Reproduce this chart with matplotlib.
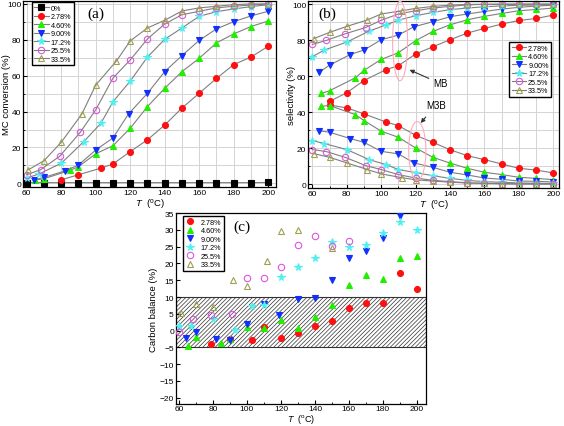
import matplotlib
matplotlib.use('Agg')
import matplotlib.pyplot as plt
from matplotlib.patches import Ellipse
from matplotlib.ticker import MultipleLocator

plt.rcParams['font.family'] = ['Liberation Sans', 'DejaVu Sans']
plt.rcParams['mathtext.fontset'] = 'custom'
plt.rcParams['mathtext.it'] = 'Liberation Sans:italic'
plt.rcParams['mathtext.rm'] = 'Liberation Sans'
plt.rcParams['hatch.linewidth'] = 0.5

labels = ['0%', '2.78%', '4.60%', '9.00%', '17.2%', '25.5%', '33.5%']

# (a) MC conversion
T_conv_0 = [60, 70, 80, 90, 100, 110, 120, 130, 140, 150, 160, 170, 180, 190, 200]
conv_0 = [0.4, 0.4, 0.4, 0.4, 0.4, 0.4, 0.4, 0.4, 0.4, 0.4, 0.4, 0.4, 0.4, 0.4, 0.5]
T_conv_278 = [80, 90, 103, 110, 120, 130, 140, 150, 160, 170, 180, 190, 200]
conv_278 = [2.0, 4.8, 8.5, 10.8, 17.7, 24.3, 32.5, 42.0, 50.2, 58.5, 66.2, 70.4, 76.4]
T_conv_460 = [65, 70, 85, 90, 100, 110, 120, 130, 140, 150, 160, 170, 180, 190, 200]
conv_460 = [1.9, 2.6, 7.2, 9.3, 16.5, 21.0, 30.7, 42.8, 53.0, 62.3, 69.7, 78.3, 83.3, 87.4, 90.5]
T_conv_900 = [64, 70, 82, 90, 100, 110, 119, 130, 140, 150, 160, 170, 180, 190, 200]
conv_900 = [1.9, 3.3, 6.9, 10.2, 18.6, 25.3, 38.7, 50.2, 62.3, 71.2, 79.7, 86.1, 90.1, 93.3, 95.9]
T_conv_172 = [60, 67, 80, 93, 103, 110, 120, 130, 140, 150, 160, 170, 180, 190, 200]
conv_172 = [3.0, 5.2, 11.2, 23.2, 33.5, 45.5, 57.0, 70.4, 80.3, 86.6, 93.1, 95.7, 97.2, 98.5, 99.6]
T_conv_255 = [60, 68, 79, 91, 100, 110, 120, 130, 140, 150, 160, 170, 180, 190, 200]
conv_255 = [4.8, 7.6, 15.0, 28.4, 41.0, 58.7, 68.8, 80.5, 88.8, 94.0, 95.9, 97.8, 98.7, 99.4, 100.0]
T_conv_335 = [61, 70, 80, 92, 100, 112, 120, 130, 140, 150, 160, 170, 180, 190, 200]
conv_335 = [7.6, 12.6, 22.9, 38.7, 54.8, 68.2, 79.4, 86.6, 90.9, 96.1, 97.8, 98.7, 99.6, 100.0, 100.0]

# (b) selectivity, MB (upper) and M3B (lower)
T_sel_278 = [70, 80, 90, 103, 110, 120, 130, 140, 150, 160, 170, 180, 190, 200]
mb_278 = [46.0, 50.8, 57.6, 63.7, 65.8, 72.3, 76.3, 80.2, 83.9, 86.5, 88.9, 90.9, 92.0, 93.9]
m3b_278 = [44.0, 42.4, 39.1, 34.5, 32.6, 27.2, 23.3, 19.2, 15.9, 13.7, 11.3, 8.9, 7.9, 6.3]
T_sel_460 = [65, 70, 85, 90, 100, 110, 120, 130, 140, 150, 160, 170, 180, 190, 200]
mb_460 = [50.4, 51.9, 59.1, 63.2, 69.3, 73.0, 79.7, 84.8, 88.5, 91.3, 93.2, 94.8, 96.3, 97.0, 97.8]
m3b_460 = [43.3, 43.7, 38.7, 35.4, 29.5, 26.1, 20.2, 15.0, 11.8, 8.9, 6.7, 5.4, 3.9, 3.3, 2.6]
T_sel_900 = [64, 70, 82, 90, 100, 110, 119, 130, 140, 150, 160, 170, 180, 190, 200]
mb_900 = [62.2, 66.1, 72.0, 74.5, 80.2, 82.8, 87.4, 90.2, 93.0, 94.5, 95.9, 97.2, 98.2, 98.9, 99.4]
m3b_900 = [29.7, 28.9, 25.4, 23.3, 18.3, 16.9, 11.9, 9.4, 6.7, 5.2, 3.5, 2.8, 1.8, 1.7, 1.3]
T_sel_172 = [60, 67, 80, 93, 103, 110, 120, 130, 140, 150, 160, 170, 180, 190, 200]
mb_172 = [70.8, 74.5, 78.9, 85.0, 88.5, 91.1, 93.5, 95.4, 96.9, 97.8, 98.5, 99.0, 99.3, 99.5, 99.6]
m3b_172 = [24.3, 22.6, 19.3, 13.7, 10.9, 8.2, 6.5, 4.8, 3.3, 2.2, 1.5, 1.1, 0.8, 0.6, 0.5]
T_sel_255 = [60, 68, 79, 91, 100, 110, 120, 130, 140, 150, 160, 170, 180, 190, 200]
mb_255 = [77.6, 79.8, 83.5, 87.0, 91.0, 94.5, 96.3, 97.8, 98.7, 99.6, 99.8, 99.8, 99.9, 99.9, 99.9]
m3b_255 = [19.3, 18.2, 15.0, 10.4, 8.2, 5.4, 3.5, 2.2, 1.5, 0.9, 0.6, 0.4, 0.3, 0.2, 0.2]
T_sel_335 = [61, 70, 80, 92, 100, 112, 120, 130, 140, 150, 160, 170, 180, 190, 200]
mb_335 = [80.9, 84.3, 87.6, 91.2, 94.5, 96.3, 97.6, 98.7, 99.4, 99.8, 99.9, 100.0, 100.0, 100.0, 100.0]
m3b_335 = [17.0, 15.0, 11.9, 8.2, 5.8, 3.7, 2.5, 1.8, 1.2, 0.7, 0.5, 0.3, 0.2, 0.2, 0.2]

# (c) carbon balance
T_cb_278 = [79, 90, 103, 110, 120, 130, 140, 150, 160, 170, 180, 190, 200]
cb_278 = [-4.1, -2.6, -2.8, 1.2, -2.1, -0.7, 1.5, 2.9, 6.6, 8.2, 8.3, 17.1, 12.5]
T_cb_460 = [65, 70, 85, 90, 100, 110, 120, 130, 140, 150, 160, 170, 180, 190, 200]
cb_460 = [-4.5, -2.0, -3.6, -2.5, 1.1, 0.9, 3.0, 0.9, 4.1, 7.7, 13.6, 16.6, 15.3, 21.5, 22.2]
T_cb_900 = [64, 70, 82, 90, 100, 110, 119, 130, 140, 150, 160, 170, 180, 190]
cb_900 = [-2.3, -0.4, -2.4, -2.9, 2.1, 8.0, 4.6, 9.5, 9.7, 15.1, 21.5, 23.7, 27.6, 34.0]
T_cb_172 = [60, 67, 80, 93, 103, 110, 120, 130, 140, 150, 160, 170, 180, 190, 200]
cb_172 = [1.3, 1.4, 3.3, 0.2, 7.2, 7.5, 16.1, 18.8, 21.5, 26.4, 25.0, 25.6, 29.2, 32.3, 30.1]
T_cb_255 = [60, 68, 79, 91, 100, 110, 120, 130, 140, 150, 160]
cb_255 = [-0.4, 3.5, 4.6, 5.0, 15.8, 15.8, 18.8, 25.5, 28.1, 25.2, 26.7]
T_cb_335 = [61, 70, 80, 92, 100, 112, 120, 130, 150]
cb_335 = [5.3, 8.0, 7.0, 15.0, 13.3, 20.8, 29.7, 30.1, 24.5]

# marker styles: (marker, face, edge, size)
styles = {
    '0%': ('s', 'black', 'black', 3.8),
    '2.78%': ('o', '#ff1010', '#ff1010', 4.3),
    '4.60%': ('^', '#22ee00', '#22ee00', 4.5),
    '9.00%': ('v', '#1030ff', '#1030ff', 4.5),
    '17.2%': ('*', '#50f0f0', '#50f0f0', 5.3),
    '25.5%': ('o', 'none', '#dd55dd', 4.6),
    '33.5%': ('^', 'none', '#a0a050', 4.8),
}
line_col = '#7f7f7f'
xlab = r'$T$  ($^{\rm o}$C)'


def draw_line(ax, x, y, lab, show_label=True):
    m, fc, ec, ms = styles[lab]
    ax.plot(x, y, color=line_col, lw=0.8, marker=m, ms=ms, mfc=fc, mec=ec,
            mew=0.8, label=lab if show_label else None, clip_on=False)


def style_axes(ax, grid=True):
    ax.tick_params(direction='in', length=3, width=0.8, labelsize=6, pad=1.5)
    ax.tick_params(which='minor', direction='in', length=1.5, width=0.6)
    for s in ax.spines.values():
        s.set_linewidth(0.9)
    if grid:
        ax.xaxis.set_minor_locator(MultipleLocator(10))
        ax.yaxis.set_minor_locator(MultipleLocator(10))
        ax.grid(True, which='both', color='#d4d4d4', lw=0.7)
        ax.set_axisbelow(True)


def small_legend(ax, anchor, loc, hl, htp):
    ax.legend(loc=loc, bbox_to_anchor=anchor, fontsize=5.2, frameon=True,
              fancybox=False, edgecolor='black', framealpha=1, handlelength=hl,
              handletextpad=htp, labelspacing=0.2, borderpad=0.35, borderaxespad=0)


fig = plt.figure(figsize=(5.64, 4.27), dpi=100)
ax_a = fig.add_axes([0.0413, 0.559, 0.448, 0.437])
ax_b = fig.add_axes([0.5467, 0.5567, 0.445, 0.439])
ax_c = fig.add_axes([0.312, 0.0515, 0.443, 0.447])

# panel (a)
conv_sets = [(T_conv_0, conv_0), (T_conv_278, conv_278), (T_conv_460, conv_460),
             (T_conv_900, conv_900), (T_conv_172, conv_172), (T_conv_255, conv_255),
             (T_conv_335, conv_335)]
for lab, (x, y) in zip(labels, conv_sets):
    draw_line(ax_a, x, y, lab)
ax_a.set_xlim(58, 204.5)
ax_a.set_ylim(-2.2, 101.8)
ax_a.set_xticks(range(60, 201, 20))
ax_a.set_yticks(range(0, 101, 20))
style_axes(ax_a)
ax_a.set_ylabel('MC conversion (%)', fontsize=6.8)
ax_a.yaxis.set_label_coords(-0.05, 0.5)
ax_a.set_xlabel(xlab, fontsize=6.8, labelpad=0)
ax_a.text(100, 95, '(a)', family='Liberation Serif', fontsize=11, ha='center', va='center')
small_legend(ax_a, (0.033, 0.991), 'upper left', 2.0, 0.3)

# panel (b)
sel_sets = [(T_sel_278, mb_278, m3b_278), (T_sel_460, mb_460, m3b_460),
            (T_sel_900, mb_900, m3b_900), (T_sel_172, mb_172, m3b_172),
            (T_sel_255, mb_255, m3b_255), (T_sel_335, mb_335, m3b_335)]
for lab, (x, mb, m3b) in zip(labels[1:], sel_sets):
    draw_line(ax_b, x, mb, lab)
    draw_line(ax_b, x, m3b, lab, show_label=False)
ax_b.set_xlim(57.7, 203.5)
ax_b.set_ylim(-2.2, 101.8)
ax_b.set_xticks(range(60, 201, 20))
ax_b.set_yticks(range(0, 101, 20))
style_axes(ax_b)
ax_b.set_ylabel('selectivity (%)', fontsize=6.8)
ax_b.yaxis.set_label_coords(-0.05, 0.5)
ax_b.set_xlabel(xlab, fontsize=6.8, labelpad=0)
ax_b.text(68.5, 95, '(b)', family='Liberation Serif', fontsize=11, ha='center', va='center')
ax_b.add_patch(Ellipse((111, 79.5), 8.7, 44, fill=False, ec='#ffaabb', lw=0.8, zorder=5))
ax_b.add_patch(Ellipse((121, 18.6), 10, 32.5, fill=False, ec='#ffaabb', lw=0.8, zorder=5))
ax_b.annotate('MB', xy=(116.5, 63.5), xytext=(130, 56), fontsize=7,
              ha='left', va='center',
              arrowprops=dict(arrowstyle='-|>', color='#333333', lw=0.8, mutation_scale=6,
                              shrinkA=1, shrinkB=0))
ax_b.annotate('M3B', xy=(123, 34), xytext=(126, 44), fontsize=7,
              ha='left', va='center',
              arrowprops=dict(arrowstyle='-|>', color='#333333', lw=0.8, mutation_scale=6,
                              shrinkA=4, shrinkB=0))
small_legend(ax_b, (0.968, 0.78), 'upper right', 2.0, 0.3)

# panel (c)
ax_c.axhspan(-5, 10, facecolor='white', edgecolor='#333333', hatch='////////', lw=0.8, zorder=0)
cb_sets = [(T_cb_278, cb_278), (T_cb_460, cb_460), (T_cb_900, cb_900),
           (T_cb_172, cb_172), (T_cb_255, cb_255), (T_cb_335, cb_335)]
for lab, (x, y) in zip(labels[1:], cb_sets):
    m, fc, ec, ms = styles[lab]
    ax_c.plot(x, y, ls='none', marker=m, ms=ms, mfc=fc, mec=ec, mew=0.8, label=lab, zorder=3)
ax_c.set_xlim(58.2, 205.3)
ax_c.set_ylim(-21.9, 35)
ax_c.set_xticks(range(60, 201, 20))
ax_c.set_yticks(range(-20, 36, 5))
style_axes(ax_c, grid=False)
ax_c.tick_params(axis='x', pad=1)
ax_c.xaxis.set_minor_locator(MultipleLocator(10))
ax_c.set_ylabel('Carbon balance (%)', fontsize=6.8, labelpad=1)
ax_c.set_xlabel(xlab, fontsize=6.5, labelpad=-0.5)
ax_c.text(97, 31.2, '(c)', family='Liberation Serif', fontsize=11, ha='center', va='center')
small_legend(ax_c, (0.03, 0.985), 'upper left', 1.2, 0.8)

fig.savefig('out.png', dpi=100)
